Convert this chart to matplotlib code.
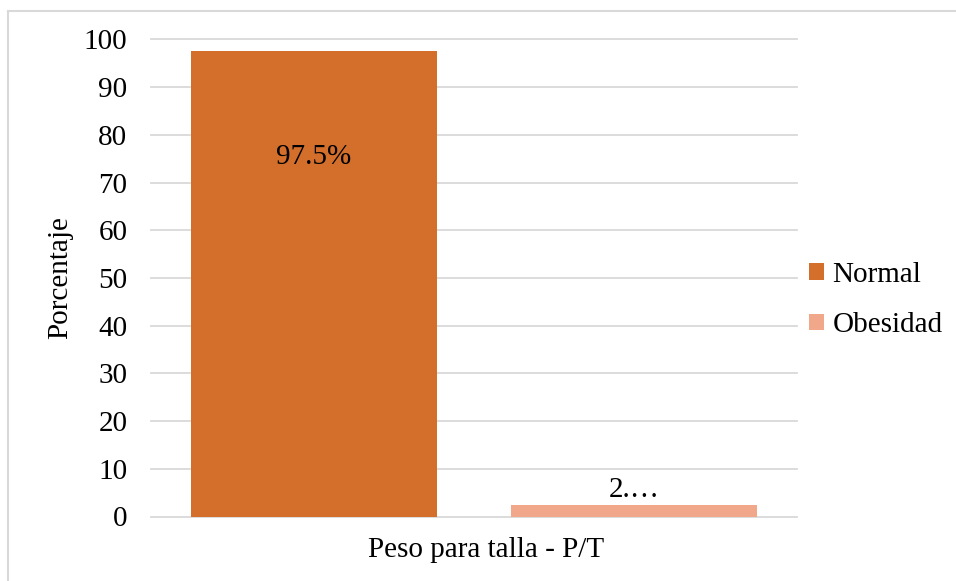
import matplotlib.pyplot as plt
from matplotlib.lines import Line2D
from matplotlib.patches import Patch

# datos
categorias = ['Normal', 'Obesidad']
porcentajes = [97.5, 2.5]
etiquetas = ['97.5%', '2.…']
colores = ['#D36F2B', '#F0A78A']

plt.rcParams['font.family'] = ['Liberation Serif', 'DejaVu Serif']
fs = 21

fig = plt.figure(figsize=(9.56, 5.81), dpi=100)
ax = fig.add_axes([151 / 956, 1 - 516.5 / 581, 646 / 956, 477 / 581])

ancho = 0.769
pos = [0, 1]
ax.bar(pos, porcentajes, width=ancho, color=colores, zorder=3)

ax.set_xlim(-0.509, 1.509)
ax.set_ylim(0, 100)
ax.set_yticks(range(0, 101, 10))
ax.tick_params(axis='y', labelsize=fs, length=0, pad=17)
ax.set_xticks([])
ax.grid(axis='y', color='#D9D9D9', linewidth=1.3, zorder=0)
for g in ax.get_ygridlines():
    g.set_clip_on(False)
for s in ax.spines.values():
    s.set_visible(False)

# etiquetas de valor
ax.text(pos[0], 75.3, etiquetas[0], ha='center', va='center', fontsize=fs)
ax.text(pos[1], porcentajes[1] + 0.3, etiquetas[1], ha='center', va='bottom', fontsize=fs)

# titulos de ejes
fig.text(60 / 956, 1 - 278 / 581, 'Porcentaje', rotation=90, ha='center', va='center', fontsize=fs)
fig.text(486 / 956, 1 - 550 / 581, 'Peso para talla - P/T', ha='center', va='center', fontsize=fs)

handles = [Patch(facecolor=c) for c in colores]
fig.legend(handles, categorias, loc='center left', bbox_to_anchor=(783 / 956, 1 - 300 / 581),
           frameon=False, fontsize=fs, handlelength=0.5, handleheight=0.5,
           handletextpad=0.3, labelspacing=0.85)

# borde del grafico
fig.add_artist(Line2D([7.5 / 956, 7.5 / 956], [0, 1 - 10.5 / 581], transform=fig.transFigure,
                      color='#D9D9D9', linewidth=1.5))
fig.add_artist(Line2D([7.5 / 956, 1], [1 - 10.5 / 581, 1 - 10.5 / 581], transform=fig.transFigure,
                      color='#D9D9D9', linewidth=1.5))

fig.savefig('out.png', dpi=100)
